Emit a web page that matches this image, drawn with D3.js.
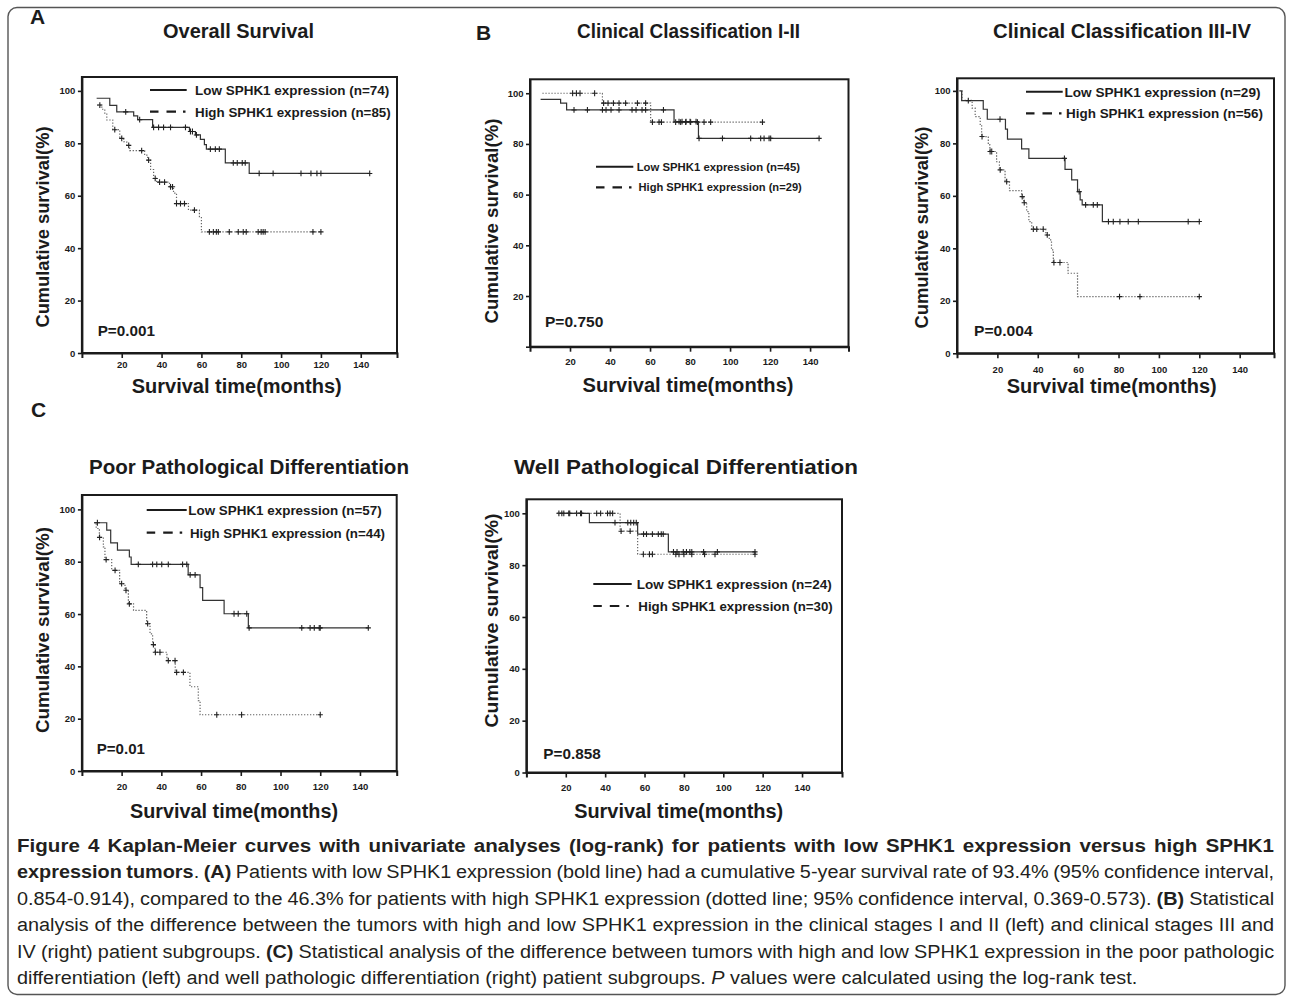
<!DOCTYPE html>
<html><head><meta charset="utf-8">
<script src="https://cdn.jsdelivr.net/npm/d3@7"></script>
<style>
html,body{margin:0;padding:0;background:#fff;}
svg{display:block;}
</style></head>
<body>
<svg id="fig" width="1290" height="1000"></svg>
<script>
// ================= DATA =================
const xTickValues = [20, 40, 60, 80, 100, 120, 140];
const yTickValues = [0, 20, 40, 60, 80, 100];
const legendLowLabel = "Low SPHK1 expression";
const legendHighLabel = "High SPHK1 expression";

// Panel A: Overall Survival  ([month, survival % after step])
const aLowSteps = [[7.4,97.2],[14,94.5],[17.5,92.0],[26,90.5],[28,89.0],[35.5,86.1],[54,84.5],[57,83.2],[59.5,81.5],[61.5,79.5],[62.5,77.8],[72,72.5],[84,68.5]];
const aLowEnd = 144.5;
const aLowCensored = [22,29,36,38.5,41,44.5,52,54.5,55.5,57.5,64.5,67,69,76,78,80.5,82,89,96,110,115,118,120,144.5];
const aHighSteps = [[7.7,94.6],[10,93.0],[11.5,91.5],[12.5,88.9],[15.5,85.2],[19,81.9],[21,80.6],[22.5,79.2],[24,77.2],[31.5,75.5],[33,73.6],[34.5,70.0],[36,66.6],[37.5,65.2],[44,63.4],[46,61.0],[47.5,57.0],[53.5,54.5],[59,52],[60,46.2]];
const aHighEnd = 120;
const aHighCensored = [9,16.5,20,23.5,30,33.5,36.8,39,41.5,44.5,45.5,47.5,49.5,51.5,56.5,64,66,67.5,68.5,74,78.5,81,82.5,88.5,90,91,92,116,120];

// Panel B (left): Clinical Classification I-II
const bLowSteps = [[5.3,97.6],[15.3,96.1],[18.3,93.4],[72,88.8],[84.2,82.2]];
const bLowEnd = 144.5;
const bLowCensored = [22,28.7,36.2,38,40.5,44.5,51,53,56,57.8,66.7,74.5,76,78,80,83,84.5,96.2,110.3,115.3,117,119.5,120.3,144.5];
const bHighSteps = [[6.2,100],[36.2,96.1],[60.3,88.6]];
const bHighEnd = 116.2;
const bHighCensored = [21.3,23.2,25,32.3,36.8,39,41.7,44.5,47.8,53.7,57.8,61.2,64.5,65.7,72.8,75.3,77.8,80.3,83.7,87,90.3,116.2];

// Panel B (right): Clinical Classification III-IV
const bRLowSteps = [[1.5,100],[2.3,96.3],[13,93.0],[15,89.2],[24,85.4],[25,81.6],[32,77.9],[35.6,74.3],[53.5,70.1],[56.8,66.1],[59.7,61.6],[61,58.5],[62,56.6],[72,50.2]];
const bRLowEnd = 120;
const bRLowCensored = [5.6,21.3,53.2,60.5,63.7,67.5,69.5,75,77.4,80.7,84.8,89.8,114.5,120];
const bRHighSteps = [[1,100],[2.5,96.4],[7.5,93.4],[9,90.2],[11.5,86.7],[12.2,82.6],[15.5,79.4],[16.3,76.9],[19.6,73.0],[21,69.9],[23.8,65.4],[26,62],[32,59.7],[33,57.4],[34.5,54],[35.6,50.2],[37,47.3],[44,45.1],[45.7,43.2],[46.8,39.4],[47.7,34.6],[55,30.5],[59.7,21.6]];
const bRHighEnd = 120;
const bRHighCensored = [12.4,16.4,17.2,21.4,24.6,32.3,33.3,37.8,39.5,42.7,44.7,48,51,80.5,90.6,120];

// Panel C (left): Poor Pathological Differentiation
const cLowSteps = [[6.1,94.9],[12.5,92.1],[14.5,87.2],[17.9,84.4],[23.9,81.8],[24.8,79.0],[53.5,75.0],[59.5,70.1],[60.8,65.2],[71.6,60.1],[83.8,54.7]];
const cLowEnd = 144.2;
const cLowCensored = [7.8,28.4,35.6,37.7,40.2,43.5,50.7,52.8,54.5,57,76.6,78.7,83,84.2,110.7,114.9,117,119.5,120,144.2];
const cHighSteps = [[6.1,94.9],[7.2,92.7],[8.8,89.3],[10.8,85.7],[11.6,80.8],[15,76.7],[19,71.6],[21.7,69.1],[23.4,63.9],[26,61.4],[32.6,56.3],[34.3,52.4],[35.6,48.3],[36.8,45.4],[42.8,42.2],[47,37.7],[54.4,32.2],[58.6,26.9],[59.5,21.5]];
const cHighEnd = 120;
const cHighCensored = [8.9,12.2,16.7,20,22.2,23.9,33.1,36,37,39.3,43.5,46.9,47.7,51.1,67.9,80.4,120];

// Panel C (right): Well Pathological Differentiation
const cRLowSteps = [[15.7,100],[32,96.4],[56.5,92.0],[72.1,85.1]];
const cRLowEnd = 116.1;
const cRLowCensored = [18,22,28,45,51.5,53,54.5,55.8,59.5,61,64,67,68.5,69.5,74.7,76.5,79.7,81.3,83,84,90,97,116.1];
const cRHighSteps = [[15.7,100],[47.6,93.1],[56.5,84.2]];
const cRHighEnd = 116.1;
const cRHighCensored = [16.5,19,21.5,25.5,27.5,35.7,37.7,41.2,42.5,43.8,48.1,52.7,59.4,62.5,64,75.9,77.5,80,84,90.5,95.8,116.1];

const panelTitles = ["Overall Survival","Clinical Classification I-II","Clinical Classification III-IV","Poor Pathological Differentiation","Well Pathological Differentiation"];
const groupSizesLow = [74, 45, 29, 57, 24];
const groupSizesHigh = [85, 29, 56, 44, 30];
const pValueLabels = ["P=0.001","P=0.750","P=0.004","P=0.01","P=0.858"];
const yAxisTitle = "Cumulative survival(%)";
const xAxisTitle = "Survival time(months)";

const captionLines = [
  [["Figure 4 Kaplan-Meier curves with univariate analyses (log-rank) for patients with low SPHK1 expression versus high SPHK1","b"]],
  [["expression tumors","b"],[". ",""],["(A)","b"],[" Patients with low SPHK1 expression (bold line) had a cumulative 5-year survival rate of 93.4% (95% confidence interval,",""]],
  [["0.854-0.914), compared to the 46.3% for patients with high SPHK1 expression (dotted line; 95% confidence interval, 0.369-0.573). ",""],["(B)","b"],[" Statistical",""]],
  [["analysis of the difference between the tumors with high and low SPHK1 expression in the clinical stages I and II (left) and clinical stages III and",""]],
  [["IV (right) patient subgroups. ",""],["(C)","b"],[" Statistical analysis of the difference between tumors with high and low SPHK1 expression in the poor pathologic",""]],
  [["differentiation (left) and well pathologic differentiation (right) patient subgroups. ",""],["P","i"],[" values were calculated using the log-rank test.",""]]
];

// ================= LAYOUT =================
const INK = "#1b1b1b";
const PLOT_FONT = "'Liberation Sans', Arial, Helvetica, sans-serif";
const CAP_FONT = "'Liberation Sans', Arial, Helvetica, sans-serif";

const panels = [
  { low:[aLowSteps,aLowEnd,aLowCensored], high:[aHighSteps,aHighEnd,aHighCensored],
    box:{l:81.9,r:397,t:77,b:353,xMax:158.2,yTop:105.3}, xPad:3.5, zeroLabel:true,
    title:{cx:238.5,y:38,w:151,fs:20}, yT:{x:49,cy:227,w:201}, xT:{cx:236.7,y:393,w:210},
    leg:{x1:150,x2:186.7,y:[90,111.7],tx:[195,195],tw:[194.3,195.7],fs:13.5}, p:{x:97.7,y:335.5,w:57.3} },
  { low:[bLowSteps,bLowEnd,bLowCensored], high:[bHighSteps,bHighEnd,bHighCensored],
    box:{l:530,r:848.5,t:79.3,b:346.7,xMax:159.2,yTop:105.5}, xPad:7, zeroLabel:false,
    title:{cx:688.5,y:38,w:223,fs:19.5}, yT:{x:498,cy:221,w:205}, xT:{cx:688,y:392,w:211},
    leg:{x1:596,x2:633.3,y:[166.7,187.3],tx:[636.7,638.5],tw:[163.3,163.3],fs:11.3}, p:{x:545,y:326.7,w:58.3} },
  { low:[bRLowSteps,bRLowEnd,bRLowCensored], high:[bRHighSteps,bRHighEnd,bRHighCensored],
    box:{l:957,r:1274,t:78.3,b:353.3,xMax:157,yTop:104.8}, xPad:8.3, zeroLabel:true,
    title:{cx:1122,y:38,w:258,fs:19.5}, yT:{x:928,cy:227.5,w:202}, xT:{cx:1111.7,y:393,w:210},
    leg:{x1:1026,x2:1062.7,y:[91.7,113.3],tx:[1064.5,1066],tw:[196,197],fs:13.5}, p:{x:974,y:335.5,w:58.7} },
  { low:[cLowSteps,cLowEnd,cLowCensored], high:[cHighSteps,cHighEnd,cHighCensored],
    box:{l:81.9,r:396.7,t:495,b:771,xMax:158.5,yTop:105.5}, xPad:7.5, zeroLabel:true,
    title:{cx:249,y:474,w:320,fs:20.5}, yT:{x:49,cy:630,w:206}, xT:{cx:234,y:818,w:208},
    leg:{x1:146.7,x2:186.7,y:[510,532.7],tx:[188.3,190],tw:[193.4,195],fs:13.5}, p:{x:96.7,y:754,w:48.3} },
  { low:[cRLowSteps,cRLowEnd,cRLowCensored], high:[cRHighSteps,cRHighEnd,cRHighCensored],
    box:{l:526.4,r:842,t:499.3,b:772.5,xMax:160.3,yTop:105.4}, xPad:7, zeroLabel:true,
    title:{cx:686,y:474,w:344,fs:20.5}, yT:{x:498,cy:620.5,w:214}, xT:{cx:678.7,y:818,w:209},
    leg:{x1:593.3,x2:631.7,y:[584,606],tx:[636.7,638.3],tw:[195,194.4],fs:13.5}, p:{x:543.3,y:759,w:57.4} }
];

// ================= DRAW =================
const svg = d3.select("#fig");
svg.append("rect").attr("width",1290).attr("height",1000).attr("fill","#fff");
svg.append("rect").attr("x",8).attr("y",7.5).attr("width",1277).attr("height",987).attr("rx",9)
  .attr("fill","none").attr("stroke","#555").attr("stroke-width",1.4);

function fit(sel, w){ sel.attr("textLength", w).attr("lengthAdjust","spacingAndGlyphs"); }
function survAt(steps, t){ let v = steps[0][1]; for (const [tt,vv] of steps) if (tt <= t) v = vv; return v; }

const letters = svg.append("g").attr("font-family",PLOT_FONT).attr("font-weight","bold").attr("font-size",21).attr("fill",INK);
[["A",30,24],["B",476,40],["C",31,417]].forEach(([t,x,y]) => letters.append("text").attr("x",x).attr("y",y).text(t));

panels.forEach((P, i) => {
  const B = P.box;
  const x = d3.scaleLinear().domain([0,B.xMax]).range([B.l,B.r]);
  const y = d3.scaleLinear().domain([0,B.yTop]).range([B.b,B.t]);
  const g = svg.append("g").attr("font-family",PLOT_FONT).attr("font-weight","bold").attr("fill",INK);

  g.append("text").attr("x",P.title.cx).attr("y",P.title.y).attr("text-anchor","middle")
    .attr("font-size",P.title.fs).text(panelTitles[i]).call(fit,P.title.w);

  g.append("rect").attr("x",B.l).attr("y",B.t).attr("width",B.r-B.l).attr("height",B.b-B.t)
    .attr("fill","none").attr("stroke",INK).attr("stroke-width",2);

  const line = d3.line().x(d=>x(d[0])).y(d=>y(d[1])).curve(d3.curveStepAfter);
  const series = [
    {d:P.high, stroke:"#666", dash:"1.3,1.7", w:1.2},
    {d:P.low,  stroke:"#333", dash:null, w:1.2}
  ];
  series.forEach(s => {
    const [steps, end, cens] = s.d;
    const pts = steps.concat([[end, steps[steps.length-1][1]]]);
    g.append("path").attr("d", line(pts)).attr("fill","none").attr("stroke",s.stroke)
      .attr("stroke-width",s.w).attr("stroke-dasharray",s.dash);
    g.append("g").selectAll("path").data(cens).join("path")
      .attr("d", c => { const cx = x(c), cy = y(survAt(steps,c));
        return `M${cx-2.6},${cy}H${cx+2.6}M${cx},${cy-2.9}V${cy+2.9}`; })
      .attr("stroke","#222").attr("stroke-width",1.1).attr("fill","none");
  });

  // axes
  const gx = g.append("g").attr("transform",`translate(0,${B.b})`)
    .call(d3.axisBottom(x).tickValues(xTickValues).tickSize(5).tickSizeOuter(5).tickPadding(P.xPad));
  const gy = g.append("g").attr("transform",`translate(${B.l},0)`)
    .call(d3.axisLeft(y).tickValues(yTickValues).tickSize(4).tickSizeOuter(0).tickPadding(2.5)
      .tickFormat(d => (d===0 && !P.zeroLabel) ? "" : d));
  [gx, gy].forEach(a => {
    a.attr("font-family",PLOT_FONT).attr("font-size",9.5).attr("font-weight","bold").attr("color",INK);
    a.select(".domain").attr("stroke-width",2);
    a.selectAll(".tick line").attr("stroke-width",1.6);
  });

  // axis titles
  g.append("text").attr("transform",`translate(${P.yT.x},${P.yT.cy}) rotate(-90)`).attr("text-anchor","middle")
    .attr("font-size",19).text(yAxisTitle).call(fit,P.yT.w);
  g.append("text").attr("x",P.xT.cx).attr("y",P.xT.y).attr("text-anchor","middle")
    .attr("font-size",19.5).text(xAxisTitle).call(fit,P.xT.w);

  // legend
  const L = P.leg;
  g.append("line").attr("x1",L.x1).attr("x2",L.x2).attr("y1",L.y[0]).attr("y2",L.y[0])
    .attr("stroke",INK).attr("stroke-width",2);
  g.append("line").attr("x1",L.x1).attr("x2",L.x2).attr("y1",L.y[1]).attr("y2",L.y[1])
    .attr("stroke",INK).attr("stroke-width",2.2).attr("stroke-dasharray","8.5,8,9.5,7,2.5");
  g.append("text").attr("x",L.tx[0]).attr("y",L.y[0]+L.fs*0.36).attr("font-size",L.fs)
    .text(`${legendLowLabel} (n=${groupSizesLow[i]})`).call(fit,L.tw[0]);
  g.append("text").attr("x",L.tx[1]).attr("y",L.y[1]+L.fs*0.36).attr("font-size",L.fs)
    .text(`${legendHighLabel} (n=${groupSizesHigh[i]})`).call(fit,L.tw[1]);

  // p value
  g.append("text").attr("x",P.p.x).attr("y",P.p.y).attr("font-size",14.5)
    .text(pValueLabels[i]).call(fit,P.p.w);
});

// caption: condensed by a horizontal scale, justified by word spacing
const capX = 17, capW = 1258, lastW = 1121, capY0 = 852, capDY = 26.4, capFs = 19;
const capTexts = captionLines.map((segs, li) => {
  const outer = svg.append("g").attr("transform",`translate(${capX},${capY0 + li*capDY})`);
  const inner = outer.append("g");
  const t = inner.append("text").attr("x",0).attr("y",0)
    .attr("font-family",CAP_FONT).attr("font-size",capFs).attr("fill","#231f20").style("white-space","pre");
  segs.forEach(([s, st]) => {
    const ts = t.append("tspan").text(s);
    if (st === "b") ts.attr("font-weight","bold");
    if (st === "i") ts.attr("font-style","italic");
  });
  return {t, inner};
});
const last = capTexts[capTexts.length-1];
const k = lastW / last.t.node().getComputedTextLength();
last.inner.attr("transform", `scale(${k},1)`);
const maxWs = 2.2;
capTexts.forEach(({t, inner}, li) => {
  if (li === capTexts.length-1) return;
  const full = captionLines[li].map(s=>s[0]).join("");
  const nSp = (full.match(/ /g) || []).length;
  const w = t.node().getComputedTextLength();
  let ws = (capW / k - w) / nSp, kl = k;
  if (ws > maxWs) { ws = maxWs; kl = capW / (w + ws * nSp); }
  t.attr("word-spacing", ws);
  inner.attr("transform", `scale(${kl},1)`);
});
</script>
</body></html>
